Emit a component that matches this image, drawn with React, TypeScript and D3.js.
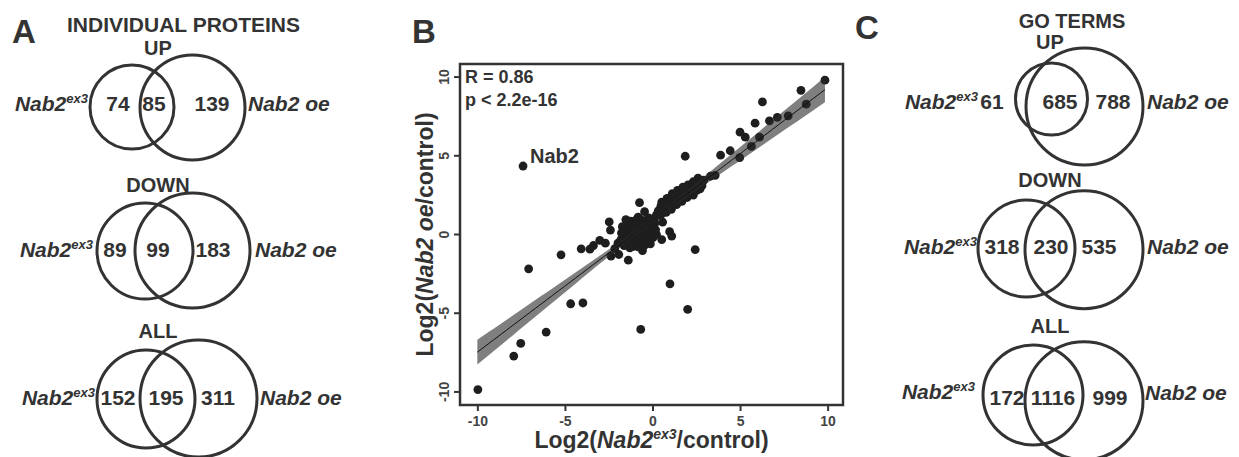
import * as d3 from "d3";

const WIDTH = 1239;
const HEIGHT = 457;

// ---- panel A / C data ----
const vennCategories = ["UP", "DOWN", "ALL"];
const proteinCounts = [
  [74, 85, 139],
  [89, 99, 183],
  [152, 195, 311],
];
const goTermCounts = [
  [61, 685, 788],
  [318, 230, 535],
  [172, 1116, 999],
];

// ---- panel B data: log2(Nab2ex3/control), log2(Nab2 oe/control) ----
const nab2Point: [number, number] = [-7.42, 4.35];
const scatterPoints: [number, number][] = [
  // lower-left / scattered
  [-10.0, -9.85], [-7.95, -7.72], [-7.55, -6.92], [-6.1, -6.2], [-4.7, -4.4],
  [-4.0, -4.35], [-7.1, -2.18], [-5.25, -1.29], [-4.1, -0.91], [-3.6, -0.93],
  [-3.4, -0.7], [-3.04, -0.37], [-2.72, -0.55], [-2.5, 0.8], [-2.43, 0.28],
  [-2.18, -0.9], [-2.4, -1.37], [-1.95, -1.27], [-1.41, -1.63], [-0.6, -1.02],
  [-0.7, -6.03], [0.97, -3.13], [1.98, -4.75], [2.41, -0.96], [0.55, 0.78],
  [0.95, 0.18], [1.07, -0.1], [0.5, -0.32], [-0.77, 2.02], [-0.48, 1.45],
  [1.84, 4.97], [-1.83, -0.32], [-1.8, 0.1], [-1.32, -0.85], [-0.17, -0.32],
  [-2.0, -0.55], [-1.65, -0.7],
  // central blob
  [-1.3, 0.85], [-1.0, 0.9], [-0.7, 0.95], [-0.4, 0.9], [-0.1, 0.85], [0.1, 0.7],
  [-1.5, 0.5], [-1.2, 0.55], [-0.9, 0.6], [-0.6, 0.5], [-0.3, 0.6], [0.0, 0.45],
  [-1.6, 0.15], [-1.3, 0.2], [-1.0, 0.25], [-0.7, 0.15], [-0.4, 0.3], [-0.1, 0.1],
  [0.15, 0.3], [-1.5, -0.2], [-1.2, -0.15], [-0.9, -0.1], [-0.6, -0.2], [-0.3, -0.05],
  [0.0, -0.2], [-1.3, -0.5], [-1.0, -0.45], [-0.7, -0.55], [-0.4, -0.45], [-0.15, -0.6],
  [-1.1, -0.75], [-0.8, -0.8], [-0.5, -0.7], [0.2, 1.25], [0.1, 1.05],
  [-1.55, 0.95], [-0.85, 1.1], [-0.25, 1.05], [0.2, 0.0], [-1.75, 0.5],
  // cluster along the fit
  [0.3, 1.5], [0.45, 1.8], [0.6, 1.6], [0.7, 2.0], [0.8, 1.75], [0.9, 2.15],
  [1.0, 1.9], [1.1, 2.3], [1.2, 2.05], [1.3, 2.45], [1.4, 2.2], [1.5, 2.6],
  [1.6, 2.35], [1.7, 2.7], [1.8, 2.5], [1.9, 2.8], [2.0, 2.55], [2.1, 2.9],
  [2.2, 2.7], [2.35, 3.05], [2.5, 2.8], [2.6, 3.3], [2.8, 3.1], [2.9, 3.45],
  [0.5, 2.05], [0.8, 2.3], [1.1, 2.6], [1.4, 2.8], [1.7, 3.0], [2.0, 3.15], [2.3, 3.35],
  [0.45, 1.25], [0.75, 1.4], [1.05, 1.6], [1.35, 1.9], [1.65, 2.1], [1.95, 2.35], [2.3, 2.5],
  // upper right
  [9.82, 9.8], [8.45, 9.16], [8.75, 8.28], [6.25, 8.42], [7.72, 7.54], [7.1, 7.44],
  [6.65, 7.22], [5.83, 7.07], [4.97, 6.5], [5.27, 6.18], [6.08, 6.18], [5.62, 5.6],
  [4.41, 5.32], [3.86, 5.04], [4.95, 4.88], [3.55, 3.75], [3.28, 3.7], [2.57, 3.58],
  [2.69, 2.9], [2.31, 3.22], [1.74, 2.86],
];
const axisTicks = [-10, -5, 0, 5, 10];
const fitSlope = 0.84;
const fitIntercept = 0.95;
const fitRange = [-10.03, 9.82];
const fitBandCenter = 0.12; // half width of 95% band at mean x
const fitBandEnd = 0.8; // half width at the ends
const fitMeanX = -0.2;

const INK = "#333";
const FONT = "'Liberation Sans', Arial, sans-serif";

type VennLayout = {
  titleX: number;
  titleY: number;
  c1: [number, number, number];
  c2: [number, number, number];
  numX: number[];
  numY: number;
  leftEnd: number;
  leftY: number;
  rightStart: number;
  rightY: number;
};

const layoutA: VennLayout[] = [
  { titleX: 158, titleY: 55, c1: [132, 107, 42], c2: [192.5, 107.5, 52.5], numX: [118, 154, 212], numY: 111, leftEnd: 88, leftY: 111, rightStart: 248, rightY: 111 },
  { titleX: 158, titleY: 192, c1: [145, 251, 48], c2: [192.5, 250.5, 57.5], numX: [115, 158, 213], numY: 257, leftEnd: 93, leftY: 257, rightStart: 255, rightY: 257 },
  { titleX: 158, titleY: 338, c1: [146, 399, 49], c2: [198.5, 398.5, 58.5], numX: [118, 166, 218], numY: 405, leftEnd: 95, leftY: 405, rightStart: 260, rightY: 405 },
];
const layoutC: VennLayout[] = [
  { titleX: 1050, titleY: 49, c1: [1051.5, 99, 36], c2: [1084.5, 106.5, 58.5], numX: [992, 1060, 1113], numY: 109, leftEnd: 978, leftY: 109, rightStart: 1147, rightY: 109 },
  { titleX: 1050, titleY: 187, c1: [1026.5, 248.5, 48.5], c2: [1084, 249.7, 59], numX: [1002, 1051, 1099], numY: 254, leftEnd: 977, leftY: 254, rightStart: 1147, rightY: 254 },
  { titleX: 1050, titleY: 333, c1: [1033, 395, 50], c2: [1084, 400.7, 59], numX: [1007, 1053, 1110], numY: 405, leftEnd: 975, leftY: 399, rightStart: 1145, rightY: 400 },
];

function Venn({ title, counts, l }: { title: string; counts: number[]; l: VennLayout }) {
  return (
    <g>
      <text x={l.titleX} y={l.titleY} textAnchor="middle" fontSize={20} fontWeight="bold" fill={INK}>
        {title}
      </text>
      {[l.c1, l.c2].map((c, i) => (
        <circle key={i} cx={c[0]} cy={c[1]} r={c[2]} fill="none" stroke={INK} strokeWidth={3} />
      ))}
      {counts.map((n, i) => (
        <text key={i} x={l.numX[i]} y={l.numY} textAnchor="middle" fontSize={21} fontWeight="bold" fill={INK}>
          {n}
        </text>
      ))}
      <text x={l.leftEnd} y={l.leftY} textAnchor="end" fontSize={21} fontWeight="bold" fontStyle="italic" fill={INK}>
        Nab2
        <tspan fontSize={13} dy={-8}>ex3</tspan>
      </text>
      <text x={l.rightStart} y={l.rightY} fontSize={21} fontWeight="bold" fontStyle="italic" fill={INK}>
        Nab2 oe
      </text>
    </g>
  );
}

function Scatter() {
  const left = 460, right = 843, top = 64, bottom = 405;
  const x = d3.scaleLinear().domain([-11.02, 10.85]).range([left, right]);
  const y = d3.scaleLinear().domain([-10.83, 10.83]).range([bottom, top]);

  const fitXs = d3.range(fitRange[0], fitRange[1] + 0.001, (fitRange[1] - fitRange[0]) / 60);
  const k = Math.sqrt(fitBandEnd ** 2 - fitBandCenter ** 2) / 10;
  const hw = (v: number) => Math.sqrt(fitBandCenter ** 2 + k ** 2 * (v - fitMeanX) ** 2);
  const fit = (v: number) => fitSlope * v + fitIntercept;
  const band = d3
    .area<number>()
    .x((v) => x(v))
    .y0((v) => y(fit(v) - hw(v)))
    .y1((v) => y(fit(v) + hw(v)));
  const line = d3
    .line<number>()
    .x((v) => x(v))
    .y((v) => y(fit(v)));

  const pts = [...scatterPoints, nab2Point];

  return (
    <g>
      <text x={412} y={43} fontSize={33} fontWeight="bold" fill={INK}>B</text>
      <defs>
        <clipPath id="panelB">
          <rect x={left} y={top} width={right - left} height={bottom - top} />
        </clipPath>
      </defs>
      <g clipPath="url(#panelB)">
        {pts.map((p, i) => (
          <circle key={i} cx={x(p[0])} cy={y(p[1])} r={4.4} fill="#1e1e1e" />
        ))}
        <path d={band(fitXs) ?? ""} fill="#2a2a2a" opacity={0.6} />
        <path d={line(fitXs) ?? ""} fill="none" stroke="#111" strokeWidth={1} />
      </g>
      <rect x={left} y={top} width={right - left} height={bottom - top} fill="none" stroke={INK} strokeWidth={2.5} />
      {axisTicks.map((t) => (
        <g key={"x" + t}>
          <line x1={x(t)} x2={x(t)} y1={bottom} y2={bottom + 6} stroke={INK} strokeWidth={2} />
          <text x={x(t)} y={bottom + 21} textAnchor="middle" fontSize={14} fontWeight="bold" fill="#444">
            {t}
          </text>
        </g>
      ))}
      {axisTicks.map((t) => (
        <g key={"y" + t}>
          <line x1={left - 6} x2={left} y1={y(t)} y2={y(t)} stroke={INK} strokeWidth={2} />
          <text
            transform={`translate(${left - 11},${y(t)}) rotate(-90)`}
            textAnchor="middle"
            fontSize={14}
            fontWeight="bold"
            fill="#444"
          >
            {t}
          </text>
        </g>
      ))}
      <text x={465} y={83} fontSize={18} fontWeight="bold" fill={INK}>R = 0.86</text>
      <text x={465} y={106} fontSize={18} fontWeight="bold" fill={INK}>p &lt; 2.2e-16</text>
      <text x={x(nab2Point[0]) + 7} y={y(nab2Point[1]) - 3} fontSize={20} fontWeight="bold" fill={INK}>
        Nab2
      </text>
      <text x={(left + right) / 2} y={448} textAnchor="middle" fontSize={23} fontWeight="bold" fill={INK}>
        Log2(<tspan fontStyle="italic">Nab2</tspan>
        <tspan fontStyle="italic" fontSize={14} dy={-9}>ex3</tspan>
        <tspan dy={9}>/control)</tspan>
      </text>
      <text
        transform={`translate(433,${(top + bottom) / 2}) rotate(-90)`}
        textAnchor="middle"
        fontSize={23}
        fontWeight="bold"
        fill={INK}
      >
        Log2(<tspan fontStyle="italic">Nab2 oe</tspan>/control)
      </text>
    </g>
  );
}

export default function App() {
  return (
    <svg
      width={WIDTH}
      height={HEIGHT}
      style={{ position: "absolute", left: 0, top: 0, background: "#fff" }}
      fontFamily={FONT}
    >
      <text x={12} y={43} fontSize={33} fontWeight="bold" fill={INK}>A</text>
      <text x={183.5} y={32} textAnchor="middle" fontSize={21} fontWeight="bold" fill={INK}>
        INDIVIDUAL PROTEINS
      </text>
      {vennCategories.map((c, i) => (
        <Venn key={"a" + c} title={c} counts={proteinCounts[i]} l={layoutA[i]} />
      ))}
      <Scatter />
      <text x={855} y={39} fontSize={33} fontWeight="bold" fill={INK}>C</text>
      <text x={1072} y={28} textAnchor="middle" fontSize={20} fontWeight="bold" fill={INK}>
        GO TERMS
      </text>
      {vennCategories.map((c, i) => (
        <Venn key={"c" + c} title={c} counts={goTermCounts[i]} l={layoutC[i]} />
      ))}
    </svg>
  );
}
